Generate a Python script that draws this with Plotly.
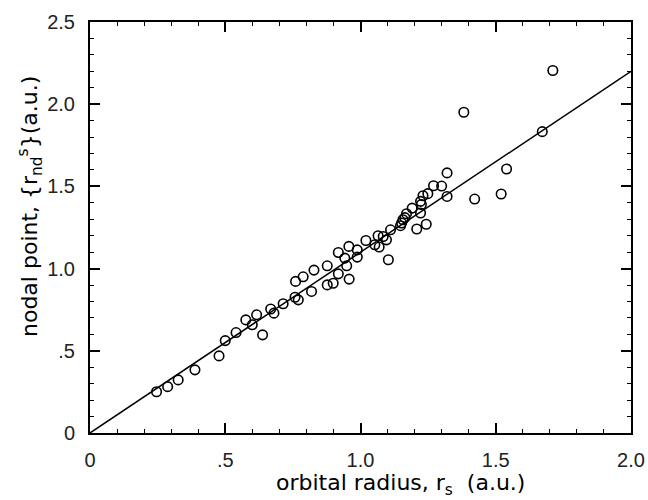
import plotly.graph_objects as go

# data
orbital_radius = [0.246, 0.287, 0.326, 0.388, 0.477, 0.500, 0.540, 0.576, 0.600, 0.616,
                  0.638, 0.668, 0.680, 0.714, 0.758, 0.770, 0.760, 0.788, 0.819, 0.828,
                  0.877, 0.877, 0.899, 0.918, 0.918, 0.949, 0.942, 0.957, 0.958, 0.988,
                  0.988, 1.020, 1.053, 1.065, 1.069, 1.084, 1.096, 1.103, 1.111, 1.148,
                  1.152, 1.157, 1.164, 1.170, 1.191, 1.208, 1.222, 1.222, 1.225, 1.231,
                  1.243, 1.249, 1.270, 1.300, 1.320, 1.320, 1.382, 1.422, 1.520, 1.540,
                  1.672, 1.711]
nodal_point = [0.251, 0.282, 0.323, 0.384, 0.469, 0.562, 0.611, 0.688, 0.658, 0.719,
               0.597, 0.754, 0.729, 0.786, 0.826, 0.810, 0.922, 0.950, 0.861, 0.991,
               1.017, 0.901, 0.911, 0.968, 1.098, 1.017, 1.064, 1.135, 0.936, 1.114,
               1.070, 1.171, 1.145, 1.200, 1.131, 1.195, 1.175, 1.054, 1.236, 1.261,
               1.277, 1.297, 1.310, 1.334, 1.368, 1.241, 1.338, 1.409, 1.390, 1.443,
               1.270, 1.456, 1.504, 1.502, 1.439, 1.582, 1.951, 1.423, 1.454, 1.606,
               1.833, 2.205]
fit_x = [0.0, 2.0]
fit_y = [0.0, 2.2]

x_tickvals = [0, 0.5, 1.0, 1.5, 2.0]
x_ticktext = ["0", ".5", "1.0", "1.5", "2.0"]
y_tickvals = [0, 0.5, 1.0, 1.5, 2.0, 2.5]
y_ticktext = ["0", ".5", "1.0", "1.5", "2.0", "2.5"]

fig = go.Figure()
fig.add_trace(go.Scatter(x=fit_x, y=fit_y, mode="lines",
                         line=dict(color="black", width=1.5), showlegend=False))
fig.add_trace(go.Scatter(x=orbital_radius, y=nodal_point, mode="markers",
                         marker=dict(symbol="circle-open", size=9.5, color="black",
                                     line=dict(width=1.6, color="black")),
                         showlegend=False))

tickfont = dict(family="Liberation Sans", size=20, color="#222")
axis_common = dict(showgrid=False, zeroline=False, showline=True, linecolor="black",
                   linewidth=2, mirror="ticks", ticks="inside", ticklen=10,
                   tickwidth=2, tickcolor="black", tickfont=tickfont, automargin=False,
                   minor=dict(ticks="inside", ticklen=4, tickwidth=1, tickcolor="black",
                              dtick=0.1, showgrid=False))

fig.update_xaxes(range=[0, 2.0], tickvals=x_tickvals, ticktext=x_ticktext,
                 ticklabelstandoff=8, **axis_common)
fig.update_yaxes(range=[0, 2.5], tickvals=y_tickvals, ticktext=y_ticktext,
                 ticklabelstandoff=9, **axis_common)

fig.update_layout(
    width=648, height=500,
    margin=dict(l=90, r=17, t=22, b=67),
    plot_bgcolor="white", paper_bgcolor="white",
    annotations=[
        dict(text="orbital radius, r<sub>s</sub>  (a.u.)", xref="paper", yref="paper",
             x=(400 - 90) / 541, y=-51 / 411, xanchor="center", yanchor="middle",
             showarrow=False, font=dict(family="DejaVu Sans", size=22, color="black")),
        dict(text="nodal point, {r<sub>nd</sub><sup>s</sup>}(a.u.)", xref="paper", yref="paper",
             x=-60 / 541, y=(433 - 207) / 411, xanchor="center", yanchor="middle",
             textangle=-90, showarrow=False,
             font=dict(family="DejaVu Sans", size=22, color="black")),
    ],
)

fig.write_html("out.html")
